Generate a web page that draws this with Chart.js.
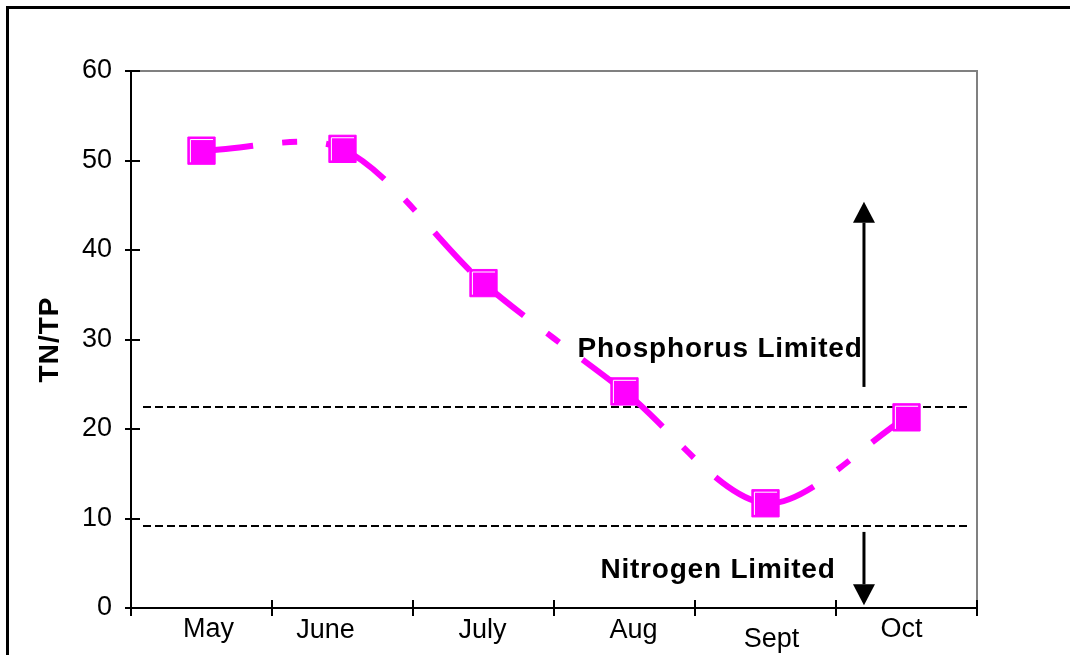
<!DOCTYPE html>
<html>
<head>
<meta charset="utf-8">
<script src="https://cdn.jsdelivr.net/npm/chart.js@4/dist/chart.umd.min.js"></script>
<style>
  html, body { margin: 0; padding: 0; background: #fff; }
  canvas { display: block; }
</style>
</head>
<body>
<canvas id="chart" width="1070" height="655"></canvas>
<script>
const months = ["May", "June", "July", "Aug", "Sept", "Oct"];
const tnTp = [51.1, 51.3, 36.3, 24.2, 11.7, 21.3];
const limitLines = [22.5, 9.2];
const notes = ["Phosphorus Limited", "Nitrogen Limited"];

const FONT = "Arial, 'Liberation Sans', sans-serif";
const MAGENTA = "#ff00ff";

// the month labels in the original are nudged off-centre, Sept sits lower
const labelShift = [[7, 0], [-17, 1], [-1, 1], [9, 1], [6, 10], [-5, 0]];

function arrow(ctx, x, yFrom, yTip) {
  const dir = Math.sign(yTip - yFrom);
  const headLen = 21, headW = 11;
  ctx.lineWidth = 3;
  ctx.beginPath();
  ctx.moveTo(x, yFrom);
  ctx.lineTo(x, yTip - dir * headLen);
  ctx.stroke();
  ctx.beginPath();
  ctx.moveTo(x, yTip);
  ctx.lineTo(x - headW, yTip - dir * headLen);
  ctx.lineTo(x + headW, yTip - dir * headLen);
  ctx.closePath();
  ctx.fill();
}

const decor = {
  id: "decor",
  beforeDraw(chart) {
    const ctx = chart.ctx;
    ctx.save();
    ctx.fillStyle = "#fff";
    ctx.fillRect(0, 0, chart.width, chart.height);
    ctx.strokeStyle = "#000";
    ctx.lineWidth = 3;
    ctx.strokeRect(7.5, 7.5, chart.width + 20, chart.height + 20);
    ctx.restore();
  },
  beforeDatasetsDraw(chart) {
    const { ctx, chartArea: a, scales: { x, y } } = chart;
    ctx.save();
    // grey frame on top and right
    ctx.strokeStyle = "#808080";
    ctx.lineWidth = 2;
    ctx.beginPath();
    ctx.moveTo(a.left + 2, a.top);
    ctx.lineTo(a.right, a.top);
    ctx.lineTo(a.right, a.bottom - 1);
    ctx.stroke();

    // limit lines
    ctx.strokeStyle = "#000";
    ctx.lineWidth = 2;
    ctx.setLineDash([8, 4]);
    limitLines.forEach((v) => {
      const py = Math.round(y.getPixelForValue(v));
      ctx.beginPath();
      ctx.moveTo(a.left + 12, py);
      ctx.lineTo(a.right - 6, py);
      ctx.stroke();
    });
    ctx.setLineDash([]);

    // tick marks crossing the axes
    ctx.lineWidth = 2;
    for (let v = 0; v <= 60; v += 10) {
      const py = Math.round(y.getPixelForValue(v));
      ctx.beginPath();
      ctx.moveTo(a.left - 6, py);
      ctx.lineTo(a.left + 9, py);
      ctx.stroke();
    }
    const step = a.width / months.length;
    for (let i = 0; i <= months.length; i++) {
      const px = Math.round(a.left + i * step);
      ctx.beginPath();
      ctx.moveTo(px, a.bottom - 8);
      ctx.lineTo(px, a.bottom + 8);
      ctx.stroke();
    }
    ctx.restore();
  },
  afterDatasetsDraw(chart) {
    const { ctx, chartArea: a, scales: { x, y } } = chart;
    ctx.save();
    // white highlight inside the square markers
    ctx.strokeStyle = "#fff";
    ctx.lineWidth = 1;
    chart.getDatasetMeta(0).data.forEach((p) => {
      const h = 13.6;
      ctx.beginPath();
      ctx.moveTo(p.x - h + 2.5, p.y + h - 2);
      ctx.lineTo(p.x - h + 2.5, p.y - h + 2.5);
      ctx.lineTo(p.x + h - 2, p.y - h + 2.5);
      ctx.stroke();
    });

    // arrows
    ctx.strokeStyle = "#000";
    ctx.fillStyle = "#000";
    const ax = a.left + a.width * 0.8664;
    arrow(ctx, ax, y.getPixelForValue(24.7), y.getPixelForValue(45.4));
    arrow(ctx, ax, y.getPixelForValue(8.5), y.getPixelForValue(0.3));

    // annotations
    ctx.font = "bold 28px " + FONT;
    ctx.letterSpacing = "0.8px";
    ctx.textAlign = "center";
    ctx.textBaseline = "alphabetic";
    ctx.fillText(notes[0], 720, 357);
    ctx.fillText(notes[1], 718, 578);
    ctx.restore();
  },
  afterDraw(chart) {
    const { ctx, chartArea: a, scales: { x } } = chart;
    ctx.save();
    ctx.fillStyle = "#000";
    ctx.font = "27px " + FONT;
    ctx.textAlign = "center";
    ctx.textBaseline = "alphabetic";
    months.forEach((m, i) => {
      ctx.fillText(m, x.getPixelForValue(i) + labelShift[i][0], 637 + labelShift[i][1]);
    });

    // axis title
    ctx.font = "bold 28px " + FONT;
    ctx.letterSpacing = "1px";
    ctx.translate(58, (a.top + a.bottom) / 2);
    ctx.rotate(-Math.PI / 2);
    ctx.fillText("TN/TP", 0, 0);
    ctx.restore();
  },
};

new Chart(document.getElementById("chart"), {
  type: "line",
  data: {
    labels: months,
    datasets: [
      {
        data: tnTp,
        borderColor: MAGENTA,
        borderWidth: 6,
        borderDash: [52, 29, 15, 29],
        borderCapStyle: "butt",
        tension: 0.3,
        fill: false,
        clip: false,
        pointStyle: "rect",
        pointRadius: 19.3,
        pointHoverRadius: 19.3,
        pointBackgroundColor: MAGENTA,
        pointBorderColor: MAGENTA,
        pointBorderWidth: 1,
        // restart the dash pattern at each point, like the original
        segment: {
          borderDashOffset: (c) => c.p0DataIndex * 0.001,
        },
      },
    ],
  },
  options: {
    responsive: false,
    animation: false,
    events: [],
    layout: { padding: { left: 0, top: 71, right: 93, bottom: 0 } },
    plugins: { legend: { display: false }, tooltip: { enabled: false } },
    scales: {
      x: {
        offset: true,
        grid: { display: false, drawTicks: false },
        border: { display: true, color: "#000", width: 2 },
        ticks: { display: false },
        afterFit: (s) => { s.height = 47; },
      },
      y: {
        min: 0,
        max: 60,
        grid: { display: false, drawTicks: false },
        border: { display: true, color: "#000", width: 2 },
        ticks: {
          stepSize: 10,
          padding: 19,
          color: "#000",
          font: { family: FONT, size: 27 },
        },
        afterFit: (s) => { s.width = 131; },
      },
    },
  },
  plugins: [decor],
});
</script>
</body>
</html>
